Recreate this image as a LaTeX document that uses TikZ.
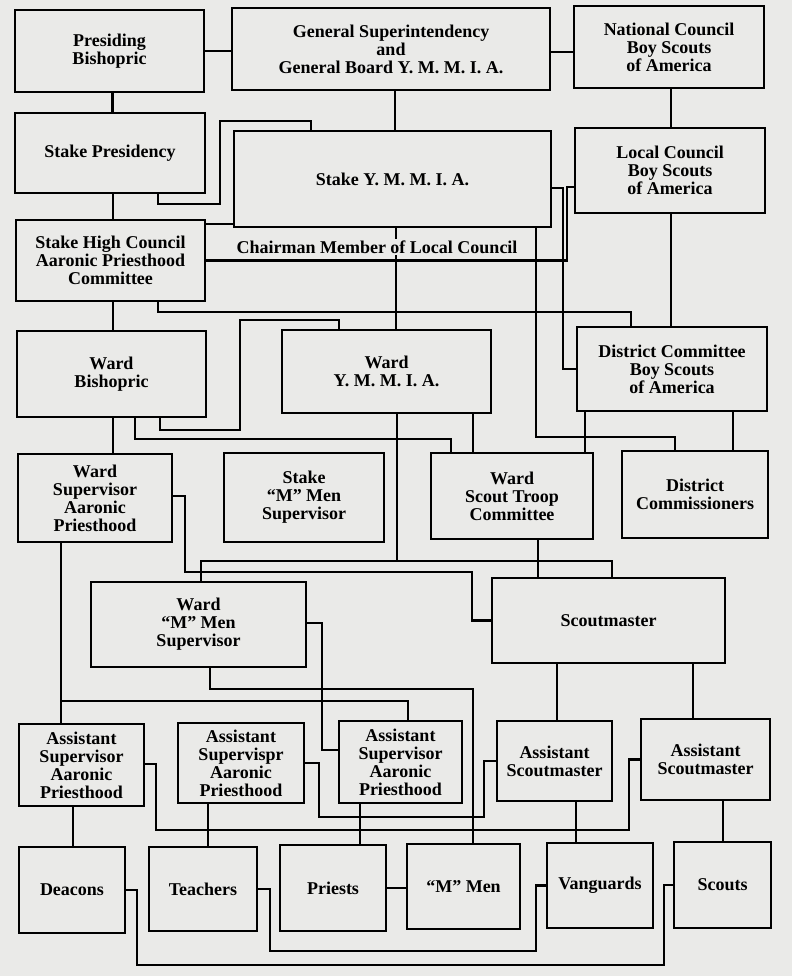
\documentclass[tikz,border=0pt]{standalone}
\usepackage{fontspec}
\setmainfont{Liberation Serif}
\definecolor{paper}{RGB}{234,234,232}
\tikzset{
  box/.style 2 args={draw, line width=2.5pt, minimum width=#1, minimum height=#2,
    inner sep=0pt, align=center, font=\bfseries\fontsize{18}{18}\selectfont},
  link/.style={line width=2.2pt},
  note/.style={fill=paper, inner sep=2pt, font=\bfseries\fontsize{18}{18}\selectfont}
}
\begin{document}
\begin{tikzpicture}[x=1pt,y=-1pt]

\fill[paper] (0,0) rectangle (792,976);
\useasboundingbox (0,0) rectangle (792,976);

\node[box={189pt}{82pt}] (pb) at (109.5,51) {Presiding\\Bishopric};
\node[box={318pt}{82pt}] (gs) at (391,49) {General Superintendency\\and\\General Board Y. M. M. I. A.};
\node[box={190pt}{82pt}] (nc) at (669,47) {National Council\\Boy Scouts\\of America};

\node[box={190pt}{80pt}] (sp) at (110,153) {Stake Presidency};
\node[box={317pt}{96pt}] (sy) at (392.5,179) {Stake Y. M. M. I. A.};
\node[box={190pt}{85pt}] (lc) at (670,170.5) {Local Council\\Boy Scouts\\of America};

\node[box={189pt}{81pt}] (shc) at (110.5,260.5) {Stake High Council\\Aaronic Priesthood\\Committee};

\node[box={189pt}{86pt}] (wb) at (111.5,374) {Ward\\Bishopric};
\node[box={209pt}{83pt}] (wy) at (386.5,371.5) {Ward\\Y. M. M. I. A.};
\node[box={190pt}{84pt}] (dc) at (672,369) {District Committee\\Boy Scouts\\of America};

\node[box={154pt}{88pt}] (wsap) at (95,498) {Ward\\Supervisor\\Aaronic\\Priesthood};
\node[box={160pt}{89pt}] (smms) at (304,497.5) {Stake\\``M'' Men\\Supervisor};
\node[box={162pt}{86pt}] (wstc) at (512,496) {Ward\\Scout Troop\\Committee};
\node[box={146pt}{87pt}] (dcm) at (695,494.5) {District\\Commissioners};

\node[box={215pt}{85pt}] (wmms) at (198.5,624.5) {Ward\\``M'' Men\\Supervisor};
\node[box={233pt}{85pt}] (sm) at (608.5,620.5) {Scoutmaster};

\node[box={125pt}{82pt}] (asap1) at (81.5,765) {Assistant\\Supervisor\\Aaronic\\Priesthood};
\node[box={126pt}{80pt}] (asap2) at (241,763) {Assistant\\Supervispr\\Aaronic\\Priesthood};
\node[box={123pt}{82pt}] (asap3) at (400.5,762) {Assistant\\Supervisor\\Aaronic\\Priesthood};
\node[box={115pt}{80pt}] (as1) at (554.5,761) {Assistant\\Scoutmaster};
\node[box={129pt}{81pt}] (as2) at (705.5,759.5) {Assistant\\Scoutmaster};

\node[box={106pt}{86pt}] (deac) at (72,890) {Deacons};
\node[box={108pt}{84pt}] (teach) at (203,889) {Teachers};
\node[box={106pt}{86pt}] (pri) at (333,888) {Priests};
\node[box={113pt}{85pt}] (mmen) at (463.5,886.5) {``M'' Men};
\node[box={106pt}{85pt}] (vang) at (600,885.5) {Vanguards};
\node[box={97pt}{86pt}] (scouts) at (722.5,885) {Scouts};

\draw[link] (pb.east) -- (pb.east -| gs.west);
\draw[link] ([yshift=-3pt]gs.east) -- ([yshift=-3pt]gs.east -| nc.west);
\draw[link] ([xshift=3pt]pb.south) -- ([xshift=3pt]pb.south |- sp.north);
\draw[link] ([xshift=4pt]gs.south) -- ([xshift=4pt]gs.south |- sy.north);
\draw[link] ([xshift=2pt]nc.south) -- ([xshift=2pt]nc.south |- lc.north);

\draw[link] ([xshift=48pt]sp.south) -- ++(0,10) -- ++(62,0) -- ++(0,-83) -| ([xshift=-81.5pt]sy.north);
\draw[link] ([xshift=3pt]sp.south) -- ([xshift=3pt]sp.south |- shc.north);
\draw[link] ([yshift=36.5pt]shc.east) -- ([yshift=36.5pt]shc.east -| sy.west);
\draw[link] ([yshift=-16.5pt]lc.west) -- ++(-7,0) |- (shc.east);
\draw[link] ([yshift=-9pt]sy.east) -- ++(11,0) |- (dc.west);
\draw[link] ([xshift=143.5pt]sy.south) -- ++(0,209) -| ([xshift=-20pt]dcm.north);
\draw[link] ([xshift=3.5pt]sy.south) -- ([xshift=3.5pt]sy.south |- wy.north);
\draw[link] ([xshift=1pt]lc.south) -- ([xshift=1pt]lc.south |- dc.north);

\draw[link] ([xshift=47.5pt]shc.south) -- ++(0,10) -| ([xshift=-41pt]dc.north);
\draw[link] ([xshift=2.5pt]shc.south) -- ([xshift=2.5pt]shc.south |- wb.north);

\draw[link] ([xshift=48.5pt]wb.south) -- ++(0,12) -- ++(80,0) -- ++(0,-110) -| ([xshift=-47.5pt]wy.north);
\draw[link] ([xshift=23.5pt]wb.south) -- ++(0,21) -| ([xshift=-61pt]wstc.north);
\draw[link] ([xshift=1.5pt]wb.south) -- ([xshift=1.5pt]wb.south |- wsap.north);
\draw[link] ([xshift=86.5pt]wy.south) -- ([xshift=86.5pt]wy.south |- wstc.north);
\draw[link] ([xshift=61pt]dc.south) -- ([xshift=61pt]dc.south |- dcm.north);
\draw[link] ([xshift=-87pt]dc.south) -- ([xshift=-87pt]dc.south |- wstc.north);

\draw[link] ([xshift=10.5pt]wy.south) -- ++(0,147) coordinate (wybus);
\draw[link] (wybus) -| ([xshift=2.5pt]wmms.north);
\draw[link] (wybus) -| ([xshift=3.5pt]sm.north);
\draw[link] ([xshift=26pt]wstc.south) -- ([xshift=26pt]wstc.south |- sm.north);
\draw[link] ([yshift=2pt]wsap.east) -- ++(12,0) -- ++(0,76) -- ++(287,0) |- (sm.west);

\draw[link] ([xshift=-34pt]wsap.south) -- ([xshift=-34pt]wsap.south |- asap1.north);
\draw[link] ([xshift=-34pt,yshift=-158pt]wsap.south) -| ([xshift=7.5pt]asap3.north);
\draw[link] ([yshift=1.5pt]wmms.east) -- ++(15,0) |- ([yshift=12pt]asap3.west);
\draw[link] ([xshift=11.5pt]wmms.south) -- ++(0,21) -| ([xshift=9.5pt]mmen.north);
\draw[link] ([xshift=-51.5pt]sm.south) -- ([xshift=-51.5pt]sm.south |- as1.north);
\draw[link] ([xshift=84.5pt]sm.south) -- ([xshift=84.5pt]sm.south |- as2.north);

\draw[link] ([xshift=-8.5pt]asap1.south) -- ([xshift=-8.5pt]asap1.south |- deac.north);
\draw[link] ([xshift=-33pt]asap2.south) -- ([xshift=-33pt]asap2.south |- teach.north);
\draw[link] ([xshift=-40.5pt]asap3.south) -- ([xshift=-40.5pt]asap3.south |- pri.north);
\draw[link] ([xshift=21.5pt]as1.south) -- ([xshift=21.5pt]as1.south |- vang.north);
\draw[link] ([xshift=17.5pt]as2.south) -- ([xshift=17.5pt]as2.south |- scouts.north);
\draw[link] ([yshift=1pt]asap1.east) -- ++(11,0) -- ++(0,66) -- ++(473,0) |- (as2.west);
\draw[link] (asap2.east) -- ++(14,0) -- ++(0,54) -- ++(165,0) |- (as1.west);

\draw[link] (pri.east) -- (pri.east -| mmen.west);
\draw[link] (teach.east) -- ++(12,0) -- ++(0,62) -- ++(266,0) |- (vang.west);
\draw[link] (deac.east) -- ++(11,0) -- ++(0,75) -- ++(527,0) |- (scouts.west);

\node[note] (chair) at (377,247) {Chairman Member of Local Council};

\end{tikzpicture}
\end{document}
